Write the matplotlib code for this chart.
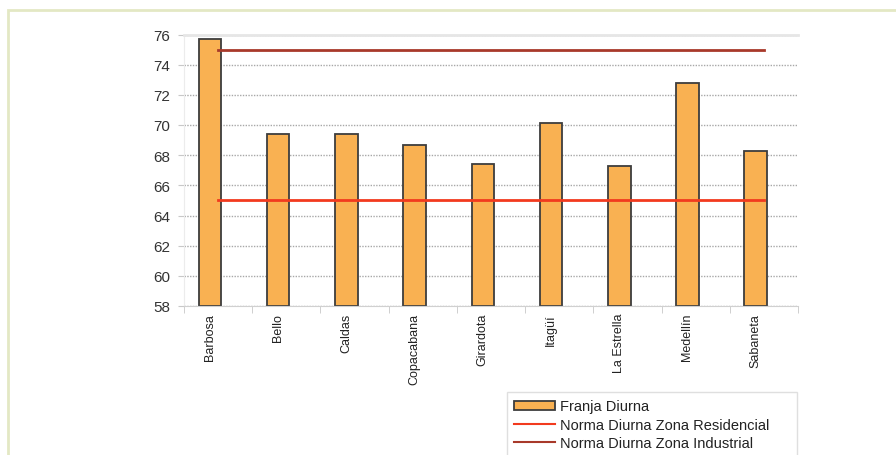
import numpy as np
import matplotlib.pyplot as plt
from matplotlib.patches import Rectangle
from matplotlib.lines import Line2D
from matplotlib.patches import Patch

plt.rcParams['font.family'] = ['Liberation Sans', 'DejaVu Sans']

municipios = ['Barbosa', 'Bello', 'Caldas', 'Copacabana', 'Girardota',
              'Itagüí', 'La Estrella', 'Medellín', 'Sabaneta']
franja_diurna = [75.7, 69.4, 69.4, 68.7, 67.4, 70.1, 67.3, 72.8, 68.3]
norma_residencial = [65] * 9
norma_industrial = [75] * 9

bar_color = '#F9B152'
res_color = '#F23A1E'
ind_color = '#A8392A'

fig = plt.figure(figsize=(8.96, 4.56), dpi=100)

# outer frame of the original figure box
fig.patches.append(Rectangle((8 / 896, -0.1), 1.2, 1 - 11 / 456 + 0.1,
                             transform=fig.transFigure, fill=False,
                             edgecolor='#E3E8C4', linewidth=2, zorder=0))

ax = fig.add_axes([184 / 896, 1 - 307 / 456, 614 / 896, (307 - 35.5) / 456])

x = np.arange(len(municipios))
xb = x - 0.12
ax.bar(xb, np.array(franja_diurna) - 58, width=0.33, bottom=58,
       color=bar_color, edgecolor='#3d3d3d', linewidth=1.3, zorder=2)
ax.plot(x, norma_residencial, color=res_color, linewidth=2, zorder=3)
ax.plot(x, norma_industrial, color=ind_color, linewidth=2, zorder=3)

ax.set_xlim(-0.5, len(municipios) - 0.5)
ax.set_ylim(58, 76)
ax.set_yticks(np.arange(58, 77, 2))
ax.yaxis.grid(True, linestyle=(0, (1, 1)), color='#a8a8a8', linewidth=1)
ax.set_axisbelow(True)

ax.set_xticks(xb)
ax.set_xticklabels(municipios, rotation=90, fontsize=9, va='top',
                   color='#222222')
ax.set_xticks(np.arange(-0.5, len(municipios)), minor=True)
ax.tick_params(axis='x', which='major', length=0, pad=5)
ax.tick_params(axis='x', which='minor', length=5, color='#c8c8c8')
ax.tick_params(axis='y', length=4, color='#c8c8c8', labelsize=11,
               labelcolor='#333333', pad=6)

ax.spines['right'].set_visible(False)
ax.spines['top'].set_color('#e6e6e6')
ax.spines['top'].set_linewidth(2)
ax.spines['bottom'].set_color('#d0d0d0')
ax.spines['left'].set_color('#ececec')

handles = [Patch(facecolor=bar_color, edgecolor='#3d3d3d', linewidth=1.3),
           Line2D([], [], color=res_color, linewidth=1.5),
           Line2D([], [], color=ind_color, linewidth=1.5)]
labels = ['Franja Diurna', 'Norma Diurna Zona Residencial',
          'Norma Diurna Zona Industrial']
leg_top = 1 - 393 / 456
leg = fig.legend(handles, labels, loc='upper left',
                 bbox_to_anchor=(507 / 896, leg_top - 0.2, 290 / 896, 0.2),
                 mode='expand', fontsize=10.5, frameon=True, fancybox=False,
                 edgecolor='#d8d8d8', handlelength=2.8, handleheight=0.6,
                 handletextpad=0.3, labelspacing=0.3, borderpad=0.5,
                 borderaxespad=0)
for t in leg.get_texts():
    t.set_color('#222222')
leg.get_frame().set_linewidth(1)

fig.savefig('out.png', dpi=100)
